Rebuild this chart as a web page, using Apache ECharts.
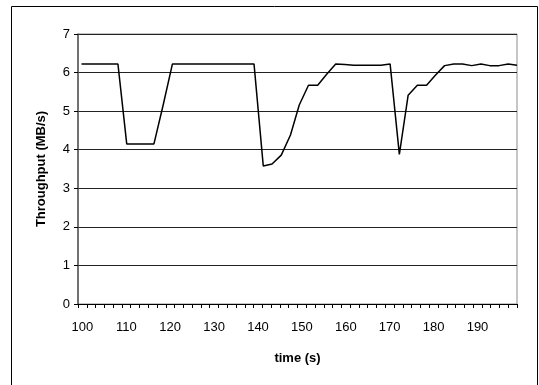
<!DOCTYPE html>
<html>
<head>
<meta charset="utf-8">
<script src="https://cdn.jsdelivr.net/npm/echarts@6/dist/echarts.min.js"></script>
<style>
html,body{margin:0;padding:0;background:#fff;}
#c{width:539px;height:385px;}
</style>
</head>
<body>
<div id="c"></div>
<script>
// x-axis tick labels (time, s) and tick marks
var xLabels = [100, 110, 120, 130, 140, 150, 160, 170, 180, 190];
var xTickMarks = [99, 101, 103, 105, 107, 109, 111, 113, 115, 117, 119, 121, 123, 125,
  127, 129, 131, 133, 135, 137, 139, 141, 143, 145, 147, 149, 151, 153, 155, 157, 159,
  161, 163, 165, 167, 169, 171, 173, 175, 177, 179, 181, 183, 185, 187, 189, 191, 193,
  195, 197, 199];

// y-axis tick labels (MB/s)
var yTicks = [0, 1, 2, 3, 4, 5, 6, 7];

// sample times (s)
var times = [99.8, 101.9, 103.9, 106.0, 108.1, 110.1, 112.2, 114.3, 116.3, 118.4,
  120.5, 122.5, 124.6, 126.7, 128.7, 130.8, 132.9, 134.9, 137.0, 139.1,
  141.2, 143.2, 145.3, 147.4, 149.4, 151.5, 153.6, 155.6, 157.7, 159.8,
  161.8, 163.9, 166.0, 168.0, 170.1, 172.2, 174.2, 176.3, 178.4, 180.4,
  182.5, 184.6, 186.6, 188.7, 190.8, 192.8, 194.9, 197.0, 199.0];

// throughput (MB/s)
var throughput = [6.22, 6.22, 6.22, 6.22, 6.22, 4.15, 4.15, 4.15, 4.15, 5.16,
  6.22, 6.22, 6.22, 6.22, 6.22, 6.22, 6.22, 6.22, 6.22, 6.22,
  3.58, 3.63, 3.86, 4.38, 5.16, 5.67, 5.67, 5.95, 6.22, 6.21,
  6.19, 6.19, 6.19, 6.19, 6.22, 3.88, 5.41, 5.67, 5.67, 5.93,
  6.18, 6.22, 6.22, 6.18, 6.22, 6.18, 6.18, 6.22, 6.19];

var seriesData = times.map(function (tm, i) { return [tm, throughput[i]]; });

var chart = echarts.init(document.getElementById('c'), null, {renderer: 'canvas'});
var font = 'Liberation Sans, Arial, sans-serif';
chart.setOption({
  animation: false,
  backgroundColor: '#fff',
  graphic: [{
    type: 'rect',
    shape: {x: 11.5, y: 6.5, width: 526, height: 390},
    style: {fill: 'none', stroke: '#000', lineWidth: 1},
    z: -10
  }],
  grid: {left: 78, top: 34, right: 22, bottom: 81, show: true,
         borderColor: '#8c8c8c', borderWidth: 1, backgroundColor: '#fff'},
  xAxis: {
    type: 'value',
    min: 99,
    max: 199,
    name: 'time (s)',
    nameLocation: 'middle',
    nameGap: 48,
    nameTextStyle: {fontFamily: font, fontSize: 13, fontWeight: 'bold', color: '#000'},
    axisLine: {show: true, lineStyle: {color: '#000', width: 1}},
    axisTick: {show: true, length: 4, inside: false, customValues: xTickMarks,
               lineStyle: {color: '#000'}},
    axisLabel: {customValues: xLabels, margin: 17, fontFamily: font, fontSize: 13, color: '#000'},
    splitLine: {show: false}
  },
  yAxis: {
    type: 'value',
    min: yTicks[0],
    max: yTicks[yTicks.length - 1],
    interval: 1,
    name: 'Throughput (MB/s)',
    nameLocation: 'middle',
    nameGap: 30,
    nameTextStyle: {fontFamily: font, fontSize: 13, fontWeight: 'bold', color: '#000'},
    axisLine: {show: true, lineStyle: {color: '#555', width: 1.5}},
    axisTick: {show: true, length: 4, lineStyle: {color: '#000'}},
    axisLabel: {margin: 8, fontFamily: font, fontSize: 13, color: '#000'},
    splitLine: {show: true, lineStyle: {color: '#222', width: 1}}
  },
  series: [{
    type: 'line',
    data: seriesData,
    symbol: 'none',
    lineStyle: {color: '#000', width: 1.5},
    z: 5
  }]
});
</script>
</body>
</html>
